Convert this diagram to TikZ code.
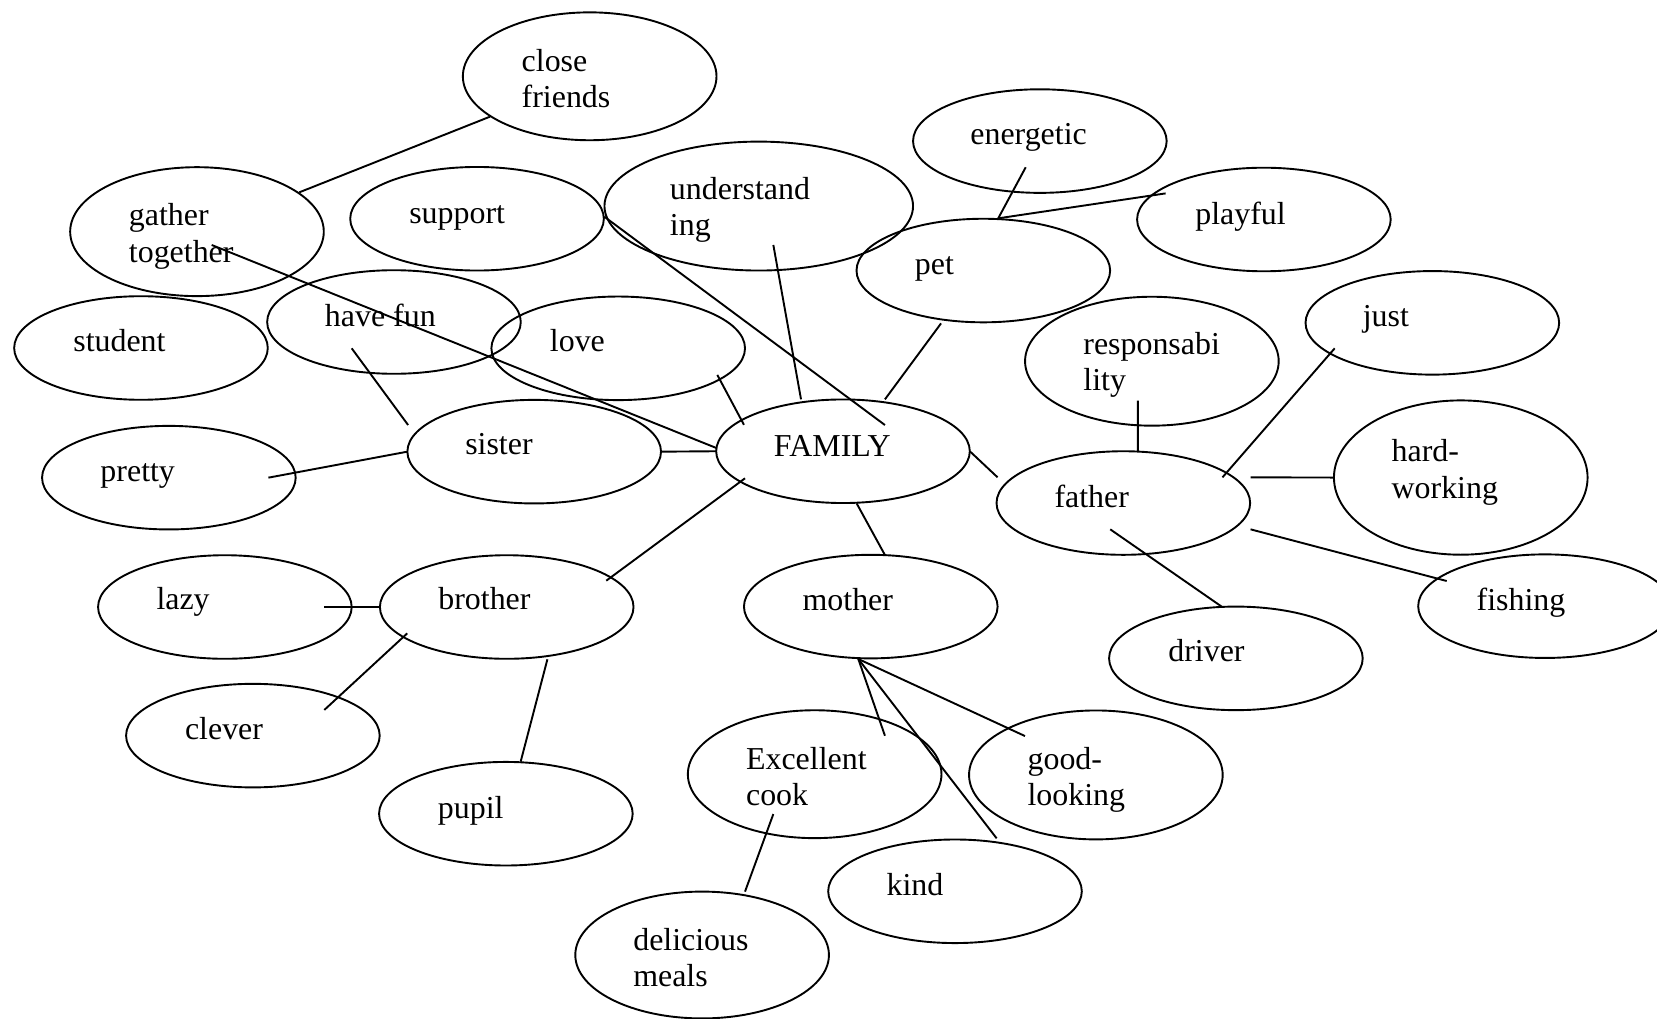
\documentclass[tikz,border=0pt]{standalone}
\usepackage{fontspec}
\setmainfont{Liberation Serif}
\usetikzlibrary{shapes.geometric,calc}
\newcommand{\twol}[2]{\begin{tabular}[t]{@{}l@{}}#1\\#2\end{tabular}}
\begin{document}
\begin{tikzpicture}[x=0.5pt,y=-0.5pt,
  ell/.style={draw,ellipse,line width=0.9pt,inner sep=0pt,outer sep=0pt,minimum width=120pt,minimum height=49pt},
  tall/.style={ell,minimum height=61pt},
  lbl/.style={anchor=base west,inner sep=0pt,outer sep=0pt,font=\fontsize{15.1}{17.25}\selectfont},
  conn/.style={line width=0.9pt}]
\useasboundingbox (0,0) rectangle (1568,964);
% ellipses
\node[tall,minimum height=60.5pt] (cf) at (558,72.2) {};
\node[tall] (gt) at (186.4,219.2) {};
\node[ell] (sup) at (451.4,207) {};
\node[tall,minimum width=146pt] (und) at (718,195) {};
\node[ell] (ene) at (984,133.5) {};
\node[ell] (pla) at (1196,207.7) {};
\node[ell] (pet) at (930.5,256) {};
\node[ell] (stu) at (133.4,329.3) {};
\node[ell] (fun) at (372.8,304.7) {};
\node[ell] (love) at (585,329.6) {};
\node[tall] (res) at (1090,341.8) {};
\node[ell] (just) at (1355.4,305.5) {};
\node[ell] (pre) at (159.8,452) {};
\node[ell] (sis) at (505.5,427.4) {};
\node[ell] (fam) at (797.7,427) {};
\node[ell] (fat) at (1063,476) {};
\node[ell,minimum height=73pt] (hw) at (1382.3,451.9) {};
\node[ell] (lazy) at (212.8,574.4) {};
\node[ell] (bro) at (479.5,574.4) {};
\node[ell] (mot) at (824,574) {};
\node[ell] (fish) at (1462,573.6) {};
\node[ell] (drv) at (1169.5,623) {};
\node[ell] (clev) at (239.3,696.1) {};
\node[tall,minimum height=60.5pt] (exc) at (770.9,732.6) {};
\node[tall] (good) at (1037,733.3) {};
\node[ell] (pup) at (478.7,770) {};
\node[ell] (kind) at (903.7,843.4) {};
\node[tall,minimum height=60pt] (del) at (664.4,903.7) {};
% texts
\node[lbl] (cf-t) at (493.7,67.2) {\twol{close}{friends}};
\node[lbl] (gt-t) at (122,213.6) {\twol{gather}{together}};
\node[lbl] (sup-t) at (387.3,211.3) {support};
\node[lbl] (und-t) at (634,188.6) {\twol{understand}{ing}};
\node[lbl] (ene-t) at (918.3,137.2) {energetic};
\node[lbl] (pla-t) at (1131.1,212) {playful};
\node[lbl] (pet-t) at (865.8,259.3) {pet};
\node[lbl] (stu-t) at (69.4,332.8) {student};
\node[lbl] (fun-t) at (307.5,309.1) {have fun};
\node[lbl] (love-t) at (520.4,332.8) {love};
\node[lbl] (res-t) at (1025.2,335) {\twol{responsabi}{lity}};
\node[lbl] (just-t) at (1289.6,309.1) {just};
\node[lbl] (pre-t) at (95.1,455.8) {pretty};
\node[lbl] (sis-t) at (440.3,430.5) {sister};
\node[lbl] (fam-t) at (732.4,431.5) {FAMILY};
\node[lbl] (fat-t) at (997.9,480) {father};
\node[lbl] (hw-t) at (1316.9,436.9) {\twol{hard-}{working}};
\node[lbl] (lazy-t) at (148.1,577.2) {lazy};
\node[lbl] (bro-t) at (414.8,577.2) {brother};
\node[lbl] (mot-t) at (759.5,577.9) {mother};
\node[lbl] (fish-t) at (1397.3,577.9) {fishing};
\node[lbl] (drv-t) at (1105.6,626.1) {driver};
\node[lbl] (clev-t) at (175.1,699.6) {clever};
\node[lbl] (exc-t) at (706,728) {\twol{Excellent}{cook}};
\node[lbl] (good-t) at (972.4,728) {\twol{good-}{looking}};
\node[lbl] (pup-t) at (414.4,774.4) {pupil};
\node[lbl] (kind-t) at (839,847) {kind};
\node[lbl] (del-t) at (599.3,899) {\twol{delicious}{meals}};
% connectors
\draw[conn] ($(cf)+(-94.3,38.2)$) -- ($(gt)+(96.8,-37.2)$);
\draw[conn] ($(gt)+(13.9,12.6)$) -- ($(fam)+(-119.7,-3)$);
\draw[conn] ($(sup)+(120.4,-2)$) -- ($(fam)+(39.7,-24.8)$);
\draw[conn] ($(und)+(13.8,36.8)$) -- ($(fam)+(-39.7,-49.1)$);
\draw[conn] ($(pet)+(-40,50)$) -- ($(fam)+(39.7,-49.1)$);
\draw[conn] ($(ene)+(-13.4,24.8)$) -- ($(pet)+(14.1,-49.4)$);
\draw[conn] ($(pla)+(-93,-24.7)$) -- ($(pet)+(14.1,-49.4)$);
\draw[conn] ($(fun)+(-40,24.9)$) -- ($(sis)+(-119.3,-25.2)$);
\draw[conn] ($(love)+(93.8,25.2)$) -- ($(fam)+(-93.7,-25)$);
\draw[conn] (sis.east) -- (fam.west);
\draw[conn] ($(pre)+(94.2,0)$) -- (sis.west);
\draw[conn] (fam.east) -- ($(fat)+(-119,-24.3)$);
\draw[conn] ($(fam)+(-92.7,25.6)$) -- ($(bro)+(94.2,-24.9)$);
\draw[conn] ($(fam)+(12.9,49.3)$) -- ($(mot)+(13.4,-48.8)$);
\draw[conn] ($(res)+(-13.3,37.3)$) -- ($(fat)+(13.7,-48.6)$);
\draw[conn] ($(just)+(-92.4,24.1)$) -- ($(fat)+(93.8,-24.3)$);
\draw[conn] ($(fat)+(120.4,-24.3)$) -- (hw.west);
\draw[conn] ($(fat)+(120.4,24.9)$) -- ($(fish)+(-93,-23.8)$);
\draw[conn] ($(fat)+(-12.4,24.9)$) -- ($(drv)+(-13.5,-49)$);
\draw[conn] ($(lazy)+(94.2,0)$) -- (bro.west);
\draw[conn] ($(bro)+(-94.1,24.9)$) -- ($(clev)+(67.6,-24.3)$);
\draw[conn] ($(bro)+(38.5,49.5)$) -- ($(pup)+(14,-49.3)$);
\draw[conn] ($(mot)+(-11.8,49.6)$) -- ($(exc)+(66.5,-36.4)$);
\draw[conn] ($(mot)+(-11.8,49.6)$) -- ($(good)+(-67.1,-36.8)$);
\draw[conn] ($(mot)+(-11.8,49.6)$) -- ($(kind)+(39.4,-50.1)$);
\draw[conn] ($(exc)+(-39.1,37.7)$) -- ($(del)+(40.6,-60)$);
\end{tikzpicture}
\end{document}
